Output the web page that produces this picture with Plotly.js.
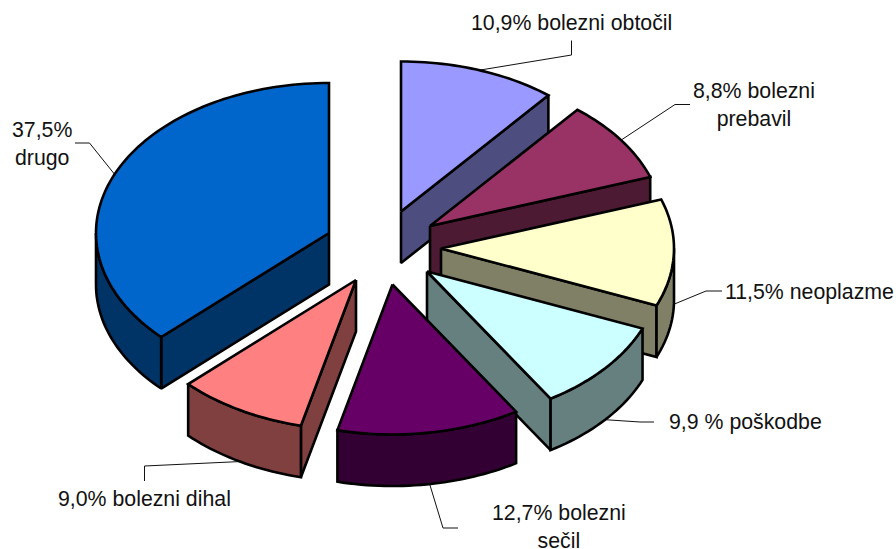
<!DOCTYPE html>
<html>
<head>
<meta charset="utf-8">
<script src="https://cdn.plot.ly/plotly-3.0.1.min.js"></script>
<style>html,body{margin:0;padding:0;background:#fff}#chart{width:896px;height:549px}</style>
</head>
<body>
<div id="chart"></div>
<script>
// Data, clockwise from 12 o'clock
const categories = ["10,9% bolezni obtočil", "8,8% bolezni<br>prebavil", "11,5% neoplazme", "9,9 % poškodbe", "12,7% bolezni<br>sečil", "9,0% bolezni dihal", "37,5%<br>drugo"];
const shares = [10.9, 8.8, 11.5, 9.9, 12.7, 9.0, 37.5];

// Styles
const topColors = ["#9999FF", "#993366", "#FFFFCC", "#CCFFFF", "#660066", "#FF8080", "#0066CC"];
const sideColors = ["#4D4D80", "#4D1A33", "#808066", "#668080", "#330033", "#804040", "#003366"];

// Layout of the projected, exploded pie
const apexX = [401, 430, 441, 427, 392.5, 356, 329];
const apexY = [211.5, 226, 248.5, 271.5, 284.5, 280, 233];
const radiusX = 233, radiusY = 150, depth = 51.5;
const labelX = [571, 754, 809, 745.5, 559, 144, 41.5];
const labelY = [22.5, 105, 291.5, 422, 527, 498.5, 144];
// Leader lines: label end and knee (the pie end is derived from the slice)
const leaderEndX = [571.5, 690, 722, 654, 458, 144.5, 75];
const leaderEndY = [40.5, 104.5, 291, 422, 528, 481, 143];
const leaderKneeX = [571.5, 675, 706, 640, 443, 144.5, 89.5];
const leaderKneeY = [55, 104.5, 291, 422, 528, 466, 143];

const rad = d => d * Math.PI / 180;
const ptX = (i, a) => apexX[i] + radiusX * Math.sin(rad(a));
const ptY = (i, a, dz) => apexY[i] - radiusY * Math.cos(rad(a)) + (dz || 0);

function arc(i, from, to, dz) {
  const n = Math.max(2, Math.ceil(Math.abs(to - from) / 1.5));
  const xs = [], ys = [];
  for (let k = 0; k <= n; k++) {
    const a = from + (to - from) * k / n;
    xs.push(ptX(i, a)); ys.push(ptY(i, a, dz));
  }
  return [xs, ys];
}
function poly(xs, ys, fill) {
  return {type: 'scatter', mode: 'lines', x: xs.concat(xs[0]), y: ys.concat(ys[0]),
    fill: 'toself', fillcolor: fill, line: {color: '#000', width: 2.6, simplify: false},
    hoverinfo: 'skip', showlegend: false};
}

const traces = [];
const angles = [];
let acc = 0;
// Shares are percentages; the rounded labels add up to just over 100, so the last slice closes the circle.
shares.forEach(v => { const a0 = acc; acc = Math.min(360, acc + v * 3.6); angles.push([a0, acc]); });
angles[angles.length - 1][1] = 360;

// Leader lines go under the slices
shares.forEach((v, i) => {
  const [a0, a1] = angles[i];
  const mid = (a0 + a1) / 2;
  const front = mid > 90 && mid < 270;
  traces.push({type: 'scatter', mode: 'lines',
    x: [leaderEndX[i], leaderKneeX[i], ptX(i, mid)],
    y: [leaderEndY[i], leaderKneeY[i], ptY(i, mid, front ? depth : 0)],
    line: {color: '#111', width: 1}, hoverinfo: 'skip', showlegend: false});
});

shares.forEach((v, i) => {
  const [a0, a1] = angles[i];
  const face = a => poly(
    [apexX[i], ptX(i, a), ptX(i, a), apexX[i]],
    [apexY[i], ptY(i, a), ptY(i, a, depth), apexY[i] + depth], sideColors[i]);
  // Radial faces that look towards the viewer
  if (Math.sin(rad(a1)) > 0.001) traces.push(face(a1));
  if (Math.sin(rad(a0)) < -0.001) traces.push(face(a0));
  // Outer wall: the part of the rim on the front half
  const w0 = Math.max(a0, 90), w1 = Math.min(a1, 270);
  if (w1 > w0) {
    const [tx, ty] = arc(i, w0, w1, 0);
    const [bx, by] = arc(i, w1, w0, depth);
    traces.push(poly(tx.concat(bx), ty.concat(by), sideColors[i]));
  }
  // Top surface
  const [sx, sy] = arc(i, a0, a1, 0);
  traces.push(poly([apexX[i]].concat(sx), [apexY[i]].concat(sy), topColors[i]));
});

const annotations = categories.map((t, i) => ({
  text: t, x: labelX[i], y: labelY[i], xref: 'x', yref: 'y',
  xanchor: 'center', yanchor: 'middle', align: 'center', showarrow: false,
  font: {family: 'Liberation Sans, Arial, sans-serif', size: 21.3, color: '#111'}
}));

const layout = {
  width: 896, height: 549, autosize: false,
  margin: {l: 0, r: 0, t: 0, b: 0, pad: 0},
  paper_bgcolor: '#fff', plot_bgcolor: '#fff', showlegend: false,
  xaxis: {range: [0, 896], visible: false, fixedrange: true},
  yaxis: {range: [549, 0], visible: false, fixedrange: true},
  annotations
};
Plotly.newPlot('chart', traces, layout, {displayModeBar: false, staticPlot: true});
</script>
</body>
</html>
